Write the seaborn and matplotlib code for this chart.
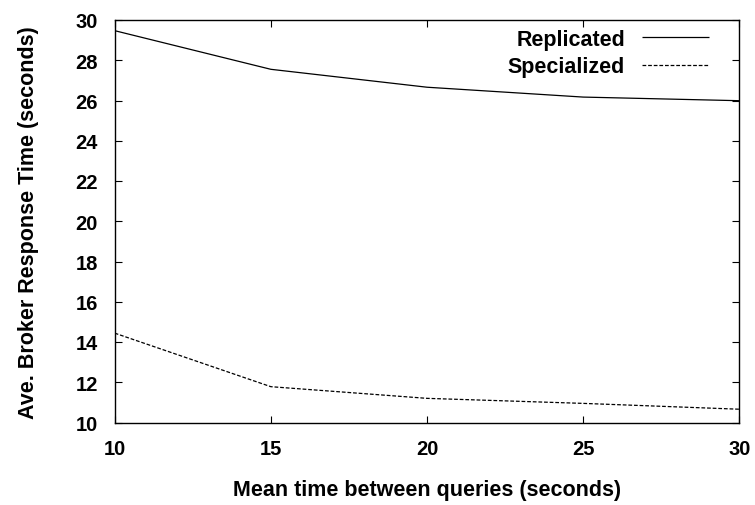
import matplotlib
matplotlib.use("Agg")
import matplotlib.pyplot as plt
import seaborn as sns
import pandas as pd

x_values = [10, 15, 20, 25, 30]
replicated = [29.47, 27.55, 26.66, 26.17, 25.99]
specialized = [14.44, 11.78, 11.2, 10.95, 10.66]
series_names = ["Replicated", "Specialized"]
x_label = "Mean time between queries (seconds)"
y_label = "Ave. Broker Response Time (seconds)"

df = pd.DataFrame({
    "x": x_values * 2,
    "y": replicated + specialized,
    "series": [series_names[0]] * 5 + [series_names[1]] * 5,
})

sns.set_style("ticks")
plt.rcParams["font.family"] = ["Liberation Sans", "DejaVu Sans"]
plt.rcParams["font.weight"] = "bold"

W, H = 755, 506
fig = plt.figure(figsize=(W / 100, H / 100), dpi=100)
left, right, top, bottom = 114.7, 739.3, 21.0, 423.5
ax = fig.add_axes([left / W, 1 - bottom / H, (right - left) / W, (bottom - top) / H])

sns.lineplot(data=df, x="x", y="y", hue="series", style="series",
             palette=["black", "black"], dashes=[(1, 0), (3, 1.5)],
             linewidth=0.9, ax=ax, legend=True)

ax.set_xlim(10, 30)
ax.set_ylim(10, 30)
ax.set_xticks(range(10, 31, 5))
ax.set_yticks(range(10, 31, 2))
ax.tick_params(direction="in", length=5, width=0.8, top=True, right=True,
               labelsize=14.5, pad=12, colors="black")
for lab in ax.get_xticklabels() + ax.get_yticklabels():
    lab.set_fontweight("bold")
for s in ax.spines.values():
    s.set_linewidth(1.0)
    s.set_color("black")

ax.set_xlabel(x_label, fontsize=15.5, fontweight="bold", labelpad=15, color="black")
ax.set_ylabel(y_label, fontsize=15.5, fontweight="bold", labelpad=26, color="black")

handles, labels = ax.get_legend_handles_labels()
fs = 15.5
leg = ax.legend(handles, labels, loc="upper right", frameon=False,
                markerfirst=False, handlelength=67 / (fs * 1.389),
                handletextpad=17 / (fs * 1.389), fontsize=fs,
                borderpad=0, borderaxespad=0, labelspacing=0.3,
                bbox_to_anchor=(709 / W, 1 - 30 / H), bbox_transform=fig.transFigure)
for t in leg.get_texts():
    t.set_fontweight("bold")
    t.set_color("black")
    t.set_ha("right")

fig.savefig("out.png", dpi=100)
